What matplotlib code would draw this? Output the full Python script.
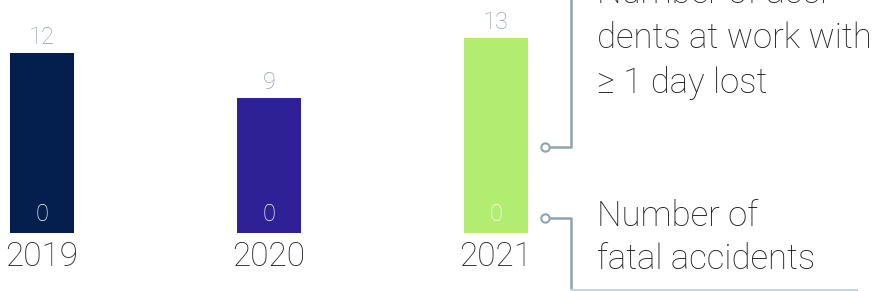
import matplotlib.pyplot as plt
import numpy as np

years = ['2019', '2020', '2021']
lost_day = [12, 9, 13]
fatal = [0, 0, 0]
bar_colors = ['#041e4e', '#2e2196', '#b2ec70']
top_note = ['Number of acci-', 'dents at work with', '\u2265 1 day lost']
bottom_note = ['Number of', 'fatal accidents']

FONT = 'Roboto'
W, H = 872, 291


def main():
    fig = plt.figure(figsize=(W / 100, H / 100), dpi=100)

    # bar axes: baseline at 233 px from top, 15 px per unit
    ax = fig.add_axes([0, 58 / H, 1, 233 / H])
    x = np.arange(len(years))
    ax.bar(x, lost_day, width=0.282, color=bar_colors, linewidth=0)
    ax.set_xlim(-42 / 227, (W - 42) / 227)
    ax.set_ylim(0, 233 / 15)
    for s in ax.spines.values():
        s.set_visible(False)
    ax.set_yticks([])
    ax.set_xticks(x)
    ax.set_xticklabels(years, fontsize=24, family=FONT, weight='light', color='#222222')
    ax.tick_params(axis='x', length=0, pad=6)

    for i in range(len(years)):
        ax.annotate(str(lost_day[i]), (x[i], lost_day[i]), xytext=(0, 3), textcoords='offset points',
                    ha='center', va='bottom', fontsize=17, family=FONT, weight='light', color='#8e9cae')
        ax.annotate(str(fatal[i]), (x[i], fatal[i]), xytext=(0, 5), textcoords='offset points',
                    ha='center', va='bottom', fontsize=17, family=FONT, weight='light', color='white')

    # overlay in pixel coordinates for the legend notes
    ov = fig.add_axes([0, 0, 1, 1], zorder=3)
    ov.set_xlim(0, W)
    ov.set_ylim(H, 0)
    ov.axis('off')
    ov.patch.set_alpha(0)

    lc = '#8fa3b3'
    ov.plot([549, 571, 571], [147, 147, -5], color=lc, lw=1.8, solid_capstyle='butt')
    ov.plot([549, 571, 571], [218, 218, 296], color=lc, lw=1.8, solid_capstyle='butt')
    ov.plot([571, 857], [290, 290], color='#cbd5de', lw=1.5)
    ov.plot([545, 545], [147, 218], ls='none', marker='o', ms=6, mfc='white', mec=lc, mew=1.5)

    for k, line in enumerate(top_note):
        ov.text(597, 3 + 45 * k, line, fontsize=25, family=FONT, weight='light',
                color='#222222', va='baseline', ha='left')
    for k, line in enumerate(bottom_note):
        ov.text(597, 226 + 43 * k, line, fontsize=25, family=FONT, weight='light',
                color='#222222', va='baseline', ha='left')

    fig.savefig('out.png', dpi=100)


if __name__ == '__main__':
    main()
